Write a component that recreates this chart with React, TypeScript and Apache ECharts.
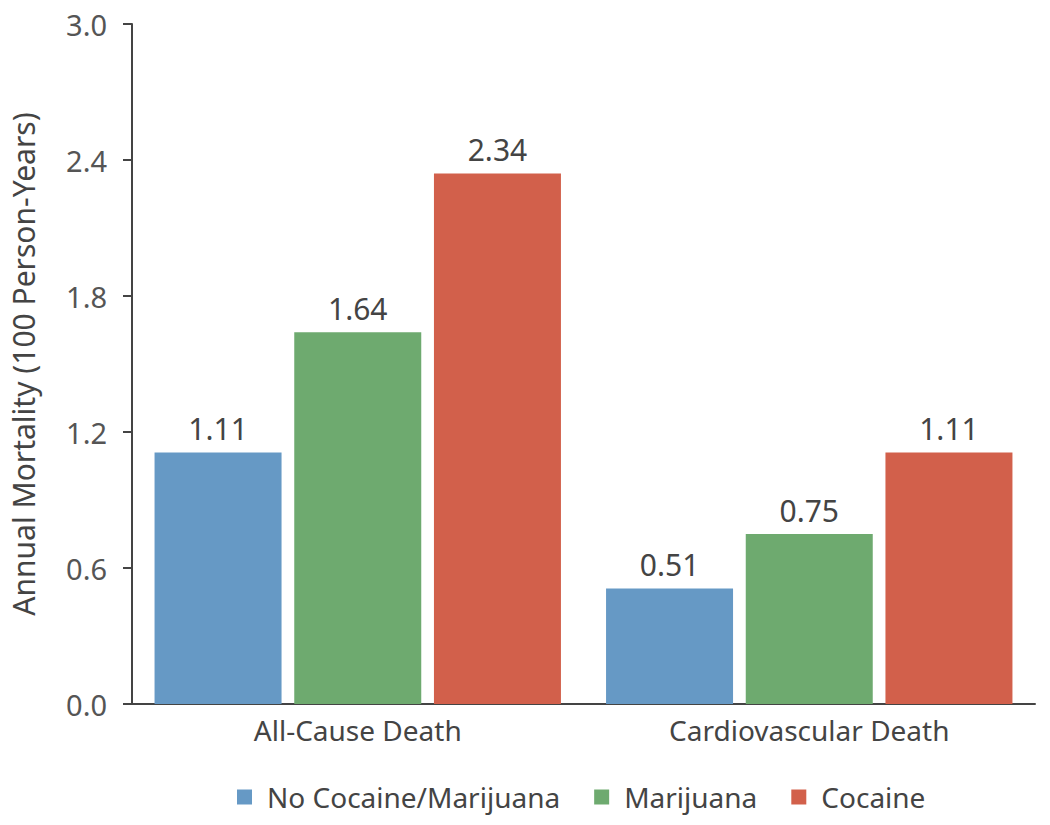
import React, { useEffect, useRef } from "react";
import * as echarts from "echarts";

const categories = ["All-Cause Death", "Cardiovascular Death"];
const seriesNames = ["No Cocaine/Marijuana", "Marijuana", "Cocaine"];
const noCocaineMarijuana = [1.11, 0.51];
const marijuana = [1.64, 0.75];
const cocaine = [2.34, 1.11];
const colors = ["#6699c5", "#6eaa6f", "#d2604b"];

const FONT = "'Noto Sans', 'Open Sans', sans-serif";
const TEXT = "#444444";

export default function App() {
  const ref = useRef<HTMLDivElement>(null);
  useEffect(() => {
    if (!ref.current) return;
    const chart = echarts.init(ref.current, undefined, { renderer: "svg" });
    const data = [noCocaineMarijuana, marijuana, cocaine];
    chart.setOption({
      animation: false,
      textStyle: { fontFamily: FONT, color: TEXT },
      grid: { left: 121, right: 15, top: 24, bottom: 121, containLabel: false },
      legend: {
        top: 778,
        left: 232,
        itemWidth: 15,
        itemHeight: 15,
        itemGap: 34,
        icon: "rect",
        textStyle: { fontSize: 28, color: TEXT, fontFamily: FONT, padding: [0, 0, 0, 10] },
        data: seriesNames,
      },
      xAxis: {
        type: "category",
        data: categories,
        axisTick: { show: false },
        axisLine: { lineStyle: { color: "#444", width: 2 } },
        axisLabel: { fontSize: 28, color: TEXT, margin: 12, fontFamily: FONT },
      },
      yAxis: {
        type: "value",
        min: 0,
        max: 3,
        interval: 0.6,
        name: "Annual Mortality (100 Person-Years)",
        nameLocation: "middle",
        nameGap: 94,
        nameTextStyle: { fontSize: 30, color: TEXT, fontFamily: FONT },
        axisLine: { show: true, lineStyle: { color: "#444", width: 2 } },
        axisTick: { show: true, inside: false, length: 9, lineStyle: { color: "#444", width: 2 } },
        splitLine: { show: false },
        axisLabel: {
          fontSize: 29,
          color: "#555",
          margin: 25,
          fontFamily: FONT,
          formatter: (v: number) => v.toFixed(1),
        },
      },
      series: seriesNames.map((name, i) => ({
        name,
        type: "bar",
        data: data[i],
        barWidth: 127,
        barGap: "10%",
        itemStyle: { color: colors[i] },
        label: {
          show: true,
          position: "top",
          distance: 9,
          fontSize: 30,
          color: TEXT,
          fontFamily: FONT,
          formatter: (p: any) => p.value.toFixed(2),
        },
      })),
    });
    return () => chart.dispose();
  }, []);
  return (
    <div
      ref={ref}
      style={{ position: "absolute", left: 0, top: 0, width: 1050, height: 825 }}
    />
  );
}
